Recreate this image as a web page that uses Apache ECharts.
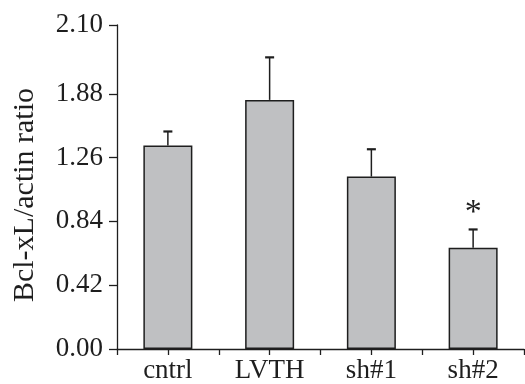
<!DOCTYPE html>
<html>
<head>
<meta charset="utf-8">
<script src="https://cdn.jsdelivr.net/npm/echarts@6/dist/echarts.min.js"></script>
<style>
html,body{margin:0;padding:0;background:#fff;}
#chart{width:525px;height:384px;}
</style>
</head>
<body>
<div id="chart"></div>
<script>
var categories = ['cntrl', 'LVTH', 'sh#1', 'sh#2'];
var means = [1.34, 1.64, 1.135, 0.667];
var upperErrors = [0.092, 0.28, 0.18, 0.12];
var significance = ['', '', '', '*'];
var yTickValues = [0, 0.42, 0.84, 1.26, 1.68, 2.133];
var yTickLabels = ['0.00', '0.42', '0.84', '1.26', '1.88', '2.10'];
var yTitle = 'Bcl-xL/actin ratio';

var INK = '#1e1e1e';
var FONT = '"Liberation Serif", "Times New Roman", serif';

function labelFor(v) {
  var best = 0, bd = Infinity;
  for (var i = 0; i < yTickValues.length; i++) {
    var d = Math.abs(yTickValues[i] - v);
    if (d < bd) { bd = d; best = i; }
  }
  return yTickLabels[best];
}

var errData = categories.map(function (c, i) {
  return [i, means[i], means[i] + upperErrors[i]];
});

var chart = echarts.init(document.getElementById('chart'), null, {renderer: 'canvas'});
chart.setOption({
  animation: false,
  backgroundColor: '#fff',
  grid: {left: 117, right: 1, top: 25, bottom: 34},
  xAxis: [{
    type: 'category',
    data: categories,
    axisLine: {show: true, lineStyle: {color: INK, width: 1.3}},
    axisTick: {show: true, length: 6, interval: 0, lineStyle: {color: INK, width: 1.3}},
    axisLabel: {interval: 0, margin: 8, color: INK, fontFamily: FONT, fontSize: 27}
  }, {
    type: 'category',
    data: categories,
    position: 'bottom',
    axisLine: {show: false},
    axisTick: {show: true, alignWithLabel: true, length: 6, interval: 0, lineStyle: {color: INK, width: 1.3}},
    axisLabel: {show: false}
  }],
  yAxis: {
    type: 'value',
    min: 0,
    max: yTickValues[yTickValues.length - 1],
    splitLine: {show: false},
    axisLine: {show: true, lineStyle: {color: INK, width: 1.3}},
    axisTick: {show: true, length: 8, customValues: yTickValues, lineStyle: {color: INK, width: 1.3}},
    axisLabel: {
      customValues: yTickValues,
      margin: 14, color: INK, fontFamily: FONT, fontSize: 27,
      formatter: function (v) { return labelFor(v); }
    },
    name: yTitle,
    nameLocation: 'middle',
    nameRotate: 90,
    nameGap: 77,
    nameTextStyle: {color: INK, fontFamily: FONT, fontSize: 30, padding: [0, 16, 0, 0]}
  },
  series: [{
    type: 'bar',
    data: means,
    barWidth: 49,
    itemStyle: {color: '#bfc0c2', borderColor: INK, borderWidth: 1.5},
    z: 2
  }, {
    type: 'custom',
    data: errData,
    z: 3,
    renderItem: function (params, api) {
      var i = api.value(0);
      var base = api.coord([i, api.value(1)]);
      var top = api.coord([i, api.value(2)]);
      var sig = significance[params.dataIndex];
      var children = [
        {type: 'line', shape: {x1: base[0], y1: base[1], x2: top[0], y2: top[1]},
         style: {stroke: INK, lineWidth: 1.5}},
        {type: 'line', shape: {x1: top[0] - 4.5, y1: top[1], x2: top[0] + 4.5, y2: top[1]},
         style: {stroke: INK, lineWidth: 2.2}}
      ];
      if (sig) {
        children.push({type: 'text', x: top[0], y: top[1] - 16,
          style: {text: sig, fill: INK, font: '34px ' + FONT, align: 'center', verticalAlign: 'middle'}});
      }
      return {type: 'group', children: children};
    }
  }]
});
</script>
</body>
</html>
